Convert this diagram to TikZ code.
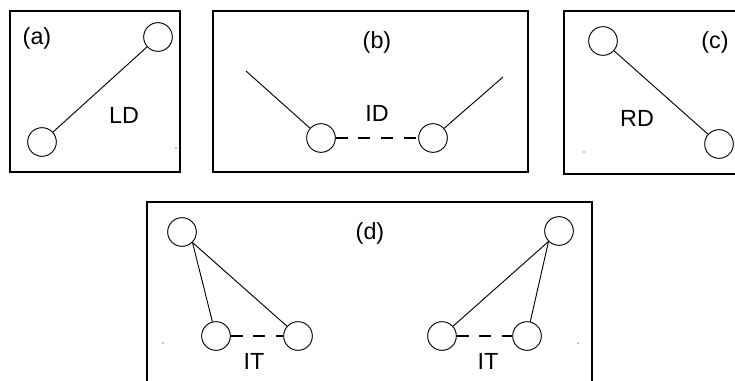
\documentclass[tikz,border=0pt]{standalone}
\usepackage{fontspec}
\setmainfont{Liberation Sans}
\begin{document}
\begin{tikzpicture}[x=0.75pt,y=-0.75pt,
  frame/.style={draw,line width=1.4pt},
  ball/.style={draw,circle,line width=0.7pt,minimum size=21.5pt,inner sep=0pt},
  link/.style={line width=0.7pt},
  weak/.style={line width=0.8pt,dash pattern=on 9pt off 8pt},
  lbl/.style={font=\fontsize{17.5}{20}\selectfont,inner sep=0pt},
  speck/.style={fill=black}]
\useasboundingbox (0,0) rectangle (735,381);
% panel (a)
\draw[frame] (10,11) rectangle (180,172);
\node[lbl] (la) at (37,38) {(a)};
\node[ball] (a1) at (158,37) {};
\node[ball] (a2) at (42,142) {};
\draw[link] (a2) -- (a1);
\node[lbl] (tLD) at (124,115) {LD};
\fill[speck] (176,148) circle (0.6);
% panel (b)
\draw[frame] (213,11) rectangle (528,172);
\node[lbl] (lb) at (377,42) {(b)};
\node[ball] (b1) at (321,138) {};
\node[ball] (b2) at (433,138) {};
\coordinate (b0) at (246,71);
\coordinate (b3) at (503,77);
\draw[link] (b0) -- (b1);
\draw[link] (b3) -- (b2);
\draw[weak] (b1) -- (b2);
\node[lbl] (tID) at (377,113) {ID};
% panel (c)
\draw[frame] (564,11) rectangle (737,174);
\node[lbl] (lc) at (715,42) {(c)};
\node[ball] (c1) at (603,41) {};
\node[ball] (c2) at (719,144) {};
\draw[link] (c1) -- (c2);
\node[lbl] (tRD) at (637,118) {RD};
\fill[speck] (584,152) circle (0.6);
% panel (d)
\draw[frame] (147,202) rectangle (592,390);
\node[lbl] (ld) at (370,233) {(d)};
\node[ball] (d1) at (182,232) {};
\node[ball] (d2) at (216,336) {};
\node[ball] (d3) at (298,336) {};
\draw[link] (d1.-45) -- (d2);
\draw[link] (d1.-45) -- (d3);
\draw[weak] (d2) -- (d3);
\node[lbl] (tIT1) at (254,361) {IT};
\fill[speck] (163,343) circle (0.6);
\node[ball] (e1) at (559,231) {};
\node[ball] (e2) at (442,336) {};
\node[ball] (e3) at (527,336) {};
\draw[link] (e1.-135) -- (e2);
\draw[link] (e1.-135) -- (e3);
\draw[weak] (e2) -- (e3);
\node[lbl] (tIT2) at (488,361) {IT};
\fill[speck] (578,343) circle (0.6);
\end{tikzpicture}
\end{document}
